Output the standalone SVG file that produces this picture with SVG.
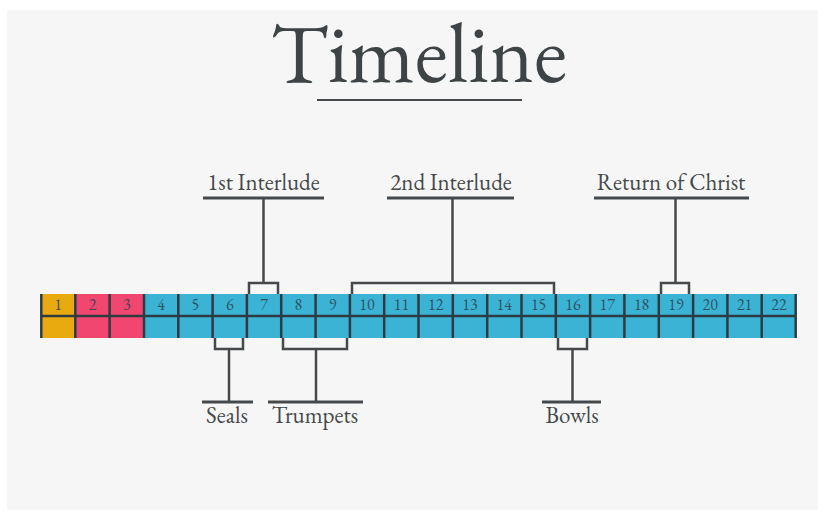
<svg xmlns="http://www.w3.org/2000/svg" width="825" height="517" viewBox="0 0 825 517">
<style>
.ln{stroke:#45494b;stroke-width:3;fill:none}
.br{stroke:#45494b;stroke-width:2.5;fill:none}
.lbl{font-family:'EB Garamond','Liberation Serif',serif;font-size:23px;fill:#45494b;text-anchor:middle}
.num{font-family:'EB Garamond','Liberation Serif',serif;font-size:16px;fill:#2f4350;text-anchor:middle;opacity:0.85}
.grid{stroke:#2e3c42;stroke-width:2.5}
</style>
<rect x="0" y="0" width="825" height="517" fill="#ffffff"/>
<rect x="7" y="10" width="811" height="500" fill="#f6f6f6"/>
<g id="title">
<text x="419" y="82" font-family="'EB Garamond','Liberation Serif',serif" font-size="85" fill="#3e4446" text-anchor="middle">Timeline</text>
<line x1="317" y1="100" x2="522" y2="100" stroke="#45494b" stroke-width="2"/>
</g>
<g id="bar">
<rect x="41" y="294" width="34.3" height="44" fill="#e9aa10"/>
<rect x="75.3" y="294" width="68.7" height="44" fill="#f0466f"/>
<rect x="144" y="294" width="652" height="44" fill="#3ab3d5"/>
<line class="grid" x1="41" y1="316" x2="796" y2="316"/>
<g class="grid">
<line x1="41.3" y1="294" x2="41.3" y2="338"/>
<line x1="75.3" y1="294" x2="75.3" y2="338"/>
<line x1="109.6" y1="294" x2="109.6" y2="338"/>
<line x1="144" y1="294" x2="144" y2="338"/>
<line x1="178.3" y1="294" x2="178.3" y2="338"/>
<line x1="212.6" y1="294" x2="212.6" y2="338"/>
<line x1="246.9" y1="294" x2="246.9" y2="338"/>
<line x1="281.2" y1="294" x2="281.2" y2="338"/>
<line x1="315.6" y1="294" x2="315.6" y2="338"/>
<line x1="349.9" y1="294" x2="349.9" y2="338"/>
<line x1="384.2" y1="294" x2="384.2" y2="338"/>
<line x1="418.5" y1="294" x2="418.5" y2="338"/>
<line x1="452.8" y1="294" x2="452.8" y2="338"/>
<line x1="487.2" y1="294" x2="487.2" y2="338"/>
<line x1="521.5" y1="294" x2="521.5" y2="338"/>
<line x1="555.8" y1="294" x2="555.8" y2="338"/>
<line x1="590.1" y1="294" x2="590.1" y2="338"/>
<line x1="624.4" y1="294" x2="624.4" y2="338"/>
<line x1="658.8" y1="294" x2="658.8" y2="338"/>
<line x1="693.1" y1="294" x2="693.1" y2="338"/>
<line x1="727.4" y1="294" x2="727.4" y2="338"/>
<line x1="761.7" y1="294" x2="761.7" y2="338"/>
<line x1="795.7" y1="294" x2="795.7" y2="338"/>
</g>
<g>
<text class="num" x="58.2" y="310">1</text>
<text class="num" x="92.5" y="310">2</text>
<text class="num" x="126.8" y="310">3</text>
<text class="num" x="161.1" y="310">4</text>
<text class="num" x="195.4" y="310">5</text>
<text class="num" x="229.8" y="310">6</text>
<text class="num" x="264.1" y="310">7</text>
<text class="num" x="298.4" y="310">8</text>
<text class="num" x="332.7" y="310">9</text>
<text class="num" x="367" y="310">10</text>
<text class="num" x="401.4" y="310">11</text>
<text class="num" x="435.7" y="310">12</text>
<text class="num" x="470" y="310">13</text>
<text class="num" x="504.3" y="310">14</text>
<text class="num" x="538.6" y="310">15</text>
<text class="num" x="573" y="310">16</text>
<text class="num" x="607.3" y="310">17</text>
<text class="num" x="641.6" y="310">18</text>
<text class="num" x="675.9" y="310">19</text>
<text class="num" x="710.2" y="310">20</text>
<text class="num" x="744.6" y="310">21</text>
<text class="num" x="778.9" y="310">22</text>
</g>
</g>
<g id="connectors">
<path class="br" d="M249,294 V283 H278 V294"/>
<line class="br" x1="263.5" y1="198" x2="263.5" y2="283"/>
<path class="br" d="M352,294 V283 H554 V294"/>
<line class="br" x1="452.5" y1="198" x2="452.5" y2="283"/>
<path class="br" d="M661,294 V283 H689 V294"/>
<line class="br" x1="675.5" y1="198" x2="675.5" y2="283"/>
<path class="br" d="M215,338 V349 H243 V338"/>
<line class="br" x1="229" y1="349" x2="229" y2="402"/>
<path class="br" d="M283,338 V349 H347 V338"/>
<line class="br" x1="316" y1="349" x2="316" y2="402"/>
<path class="br" d="M558,338 V349 H587 V338"/>
<line class="br" x1="572.5" y1="349" x2="572.5" y2="402"/>
</g>
<g id="n-1st-interlude">
<line class="ln" x1="203" y1="198" x2="324" y2="198"/>
<text class="lbl" x="263.5" y="190">1st Interlude</text>
</g>
<g id="n-2nd-interlude">
<line class="ln" x1="387" y1="198" x2="514" y2="198"/>
<text class="lbl" x="451" y="190">2nd Interlude</text>
</g>
<g id="n-return">
<line class="ln" x1="594" y1="198" x2="749" y2="198"/>
<text class="lbl" x="671" y="190">Return of Christ</text>
</g>
<g id="n-seals">
<line class="ln" x1="202" y1="402" x2="253" y2="402"/>
<text class="lbl" x="227" y="423">Seals</text>
</g>
<g id="n-trumpets">
<line class="ln" x1="268" y1="402" x2="363" y2="402"/>
<text class="lbl" x="315" y="423">Trumpets</text>
</g>
<g id="n-bowls">
<line class="ln" x1="542" y1="402" x2="601" y2="402"/>
<text class="lbl" x="572" y="423">Bowls</text>
</g>
</svg>
